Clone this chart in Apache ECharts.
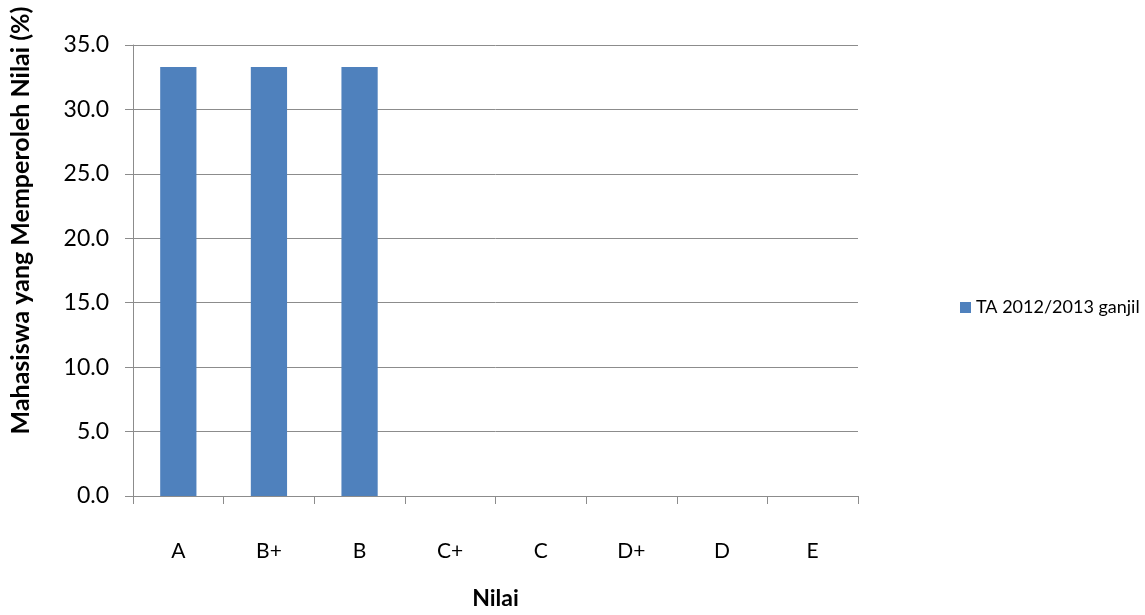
<!DOCTYPE html>
<html><head><meta charset="utf-8">
<script src="https://cdn.jsdelivr.net/npm/echarts@6/dist/echarts.min.js"></script>
<style>html,body{margin:0;padding:0;background:#fff}#c{width:1145px;height:615px}</style>
</head><body><div id="c"></div>
<script>
var categories = ['A','B+','B','C+','C','D+','D','E'];
var seriesName = 'TA 2012/2013 ganjil';
var values = [33.3, 33.3, 33.3, 0, 0, 0, 0, 0];
var xAxisTitle = 'Nilai';
var yAxisTitle = 'Mahasiswa yang Memperoleh Nilai (%)';

var font = 'Lato, "Open Sans", "Liberation Sans", sans-serif';
var chart = echarts.init(document.getElementById('c'), null, {renderer:'canvas'});
chart.setOption({
  animation:false,
  backgroundColor:'#fff',
  grid:{left:129, right:287, top:45, bottom:109, containLabel:false},
  legend:{
    data:[seriesName], orient:'vertical', left:955, top:'middle',
    itemWidth:11, itemHeight:11, itemGap:6, icon:'rect',
    textStyle:{fontFamily:font, fontSize:18, color:'#000'}
  },
  xAxis:{
    type:'category', data:categories, boundaryGap:true,
    axisLine:{lineStyle:{color:'#8c8c8c', width:1}},
    axisTick:{show:true, alignWithLabel:false, length:8, lineStyle:{color:'#8c8c8c'}},
    axisLabel:{margin:45, fontFamily:font, fontSize:21, color:'#000'},
    name:xAxisTitle, nameLocation:'middle', nameGap:91,
    nameTextStyle:{fontFamily:font, fontSize:23, fontWeight:'bold', color:'#000'}
  },
  yAxis:{
    type:'value', min:0, max:35, interval:5,
    axisLine:{show:true, lineStyle:{color:'#8c8c8c', width:1}},
    axisTick:{show:true, length:8, lineStyle:{color:'#8c8c8c'}},
    splitLine:{show:true, lineStyle:{color:'#8c8c8c', width:1}},
    axisLabel:{margin:24, fontFamily:font, fontSize:23, color:'#000', formatter:function(v){return v.toFixed(1);}},
    name:yAxisTitle, nameLocation:'middle', nameGap:100, nameRotate:90,
    nameTextStyle:{fontFamily:font, fontSize:25, fontWeight:'bold', color:'#000', padding:[0,0,0,100]}
  },
  series:[{
    name:seriesName, type:'bar', data:values,
    barWidth:'40%',
    itemStyle:{color:'#4F81BD'}
  }]
});
</script></body></html>
